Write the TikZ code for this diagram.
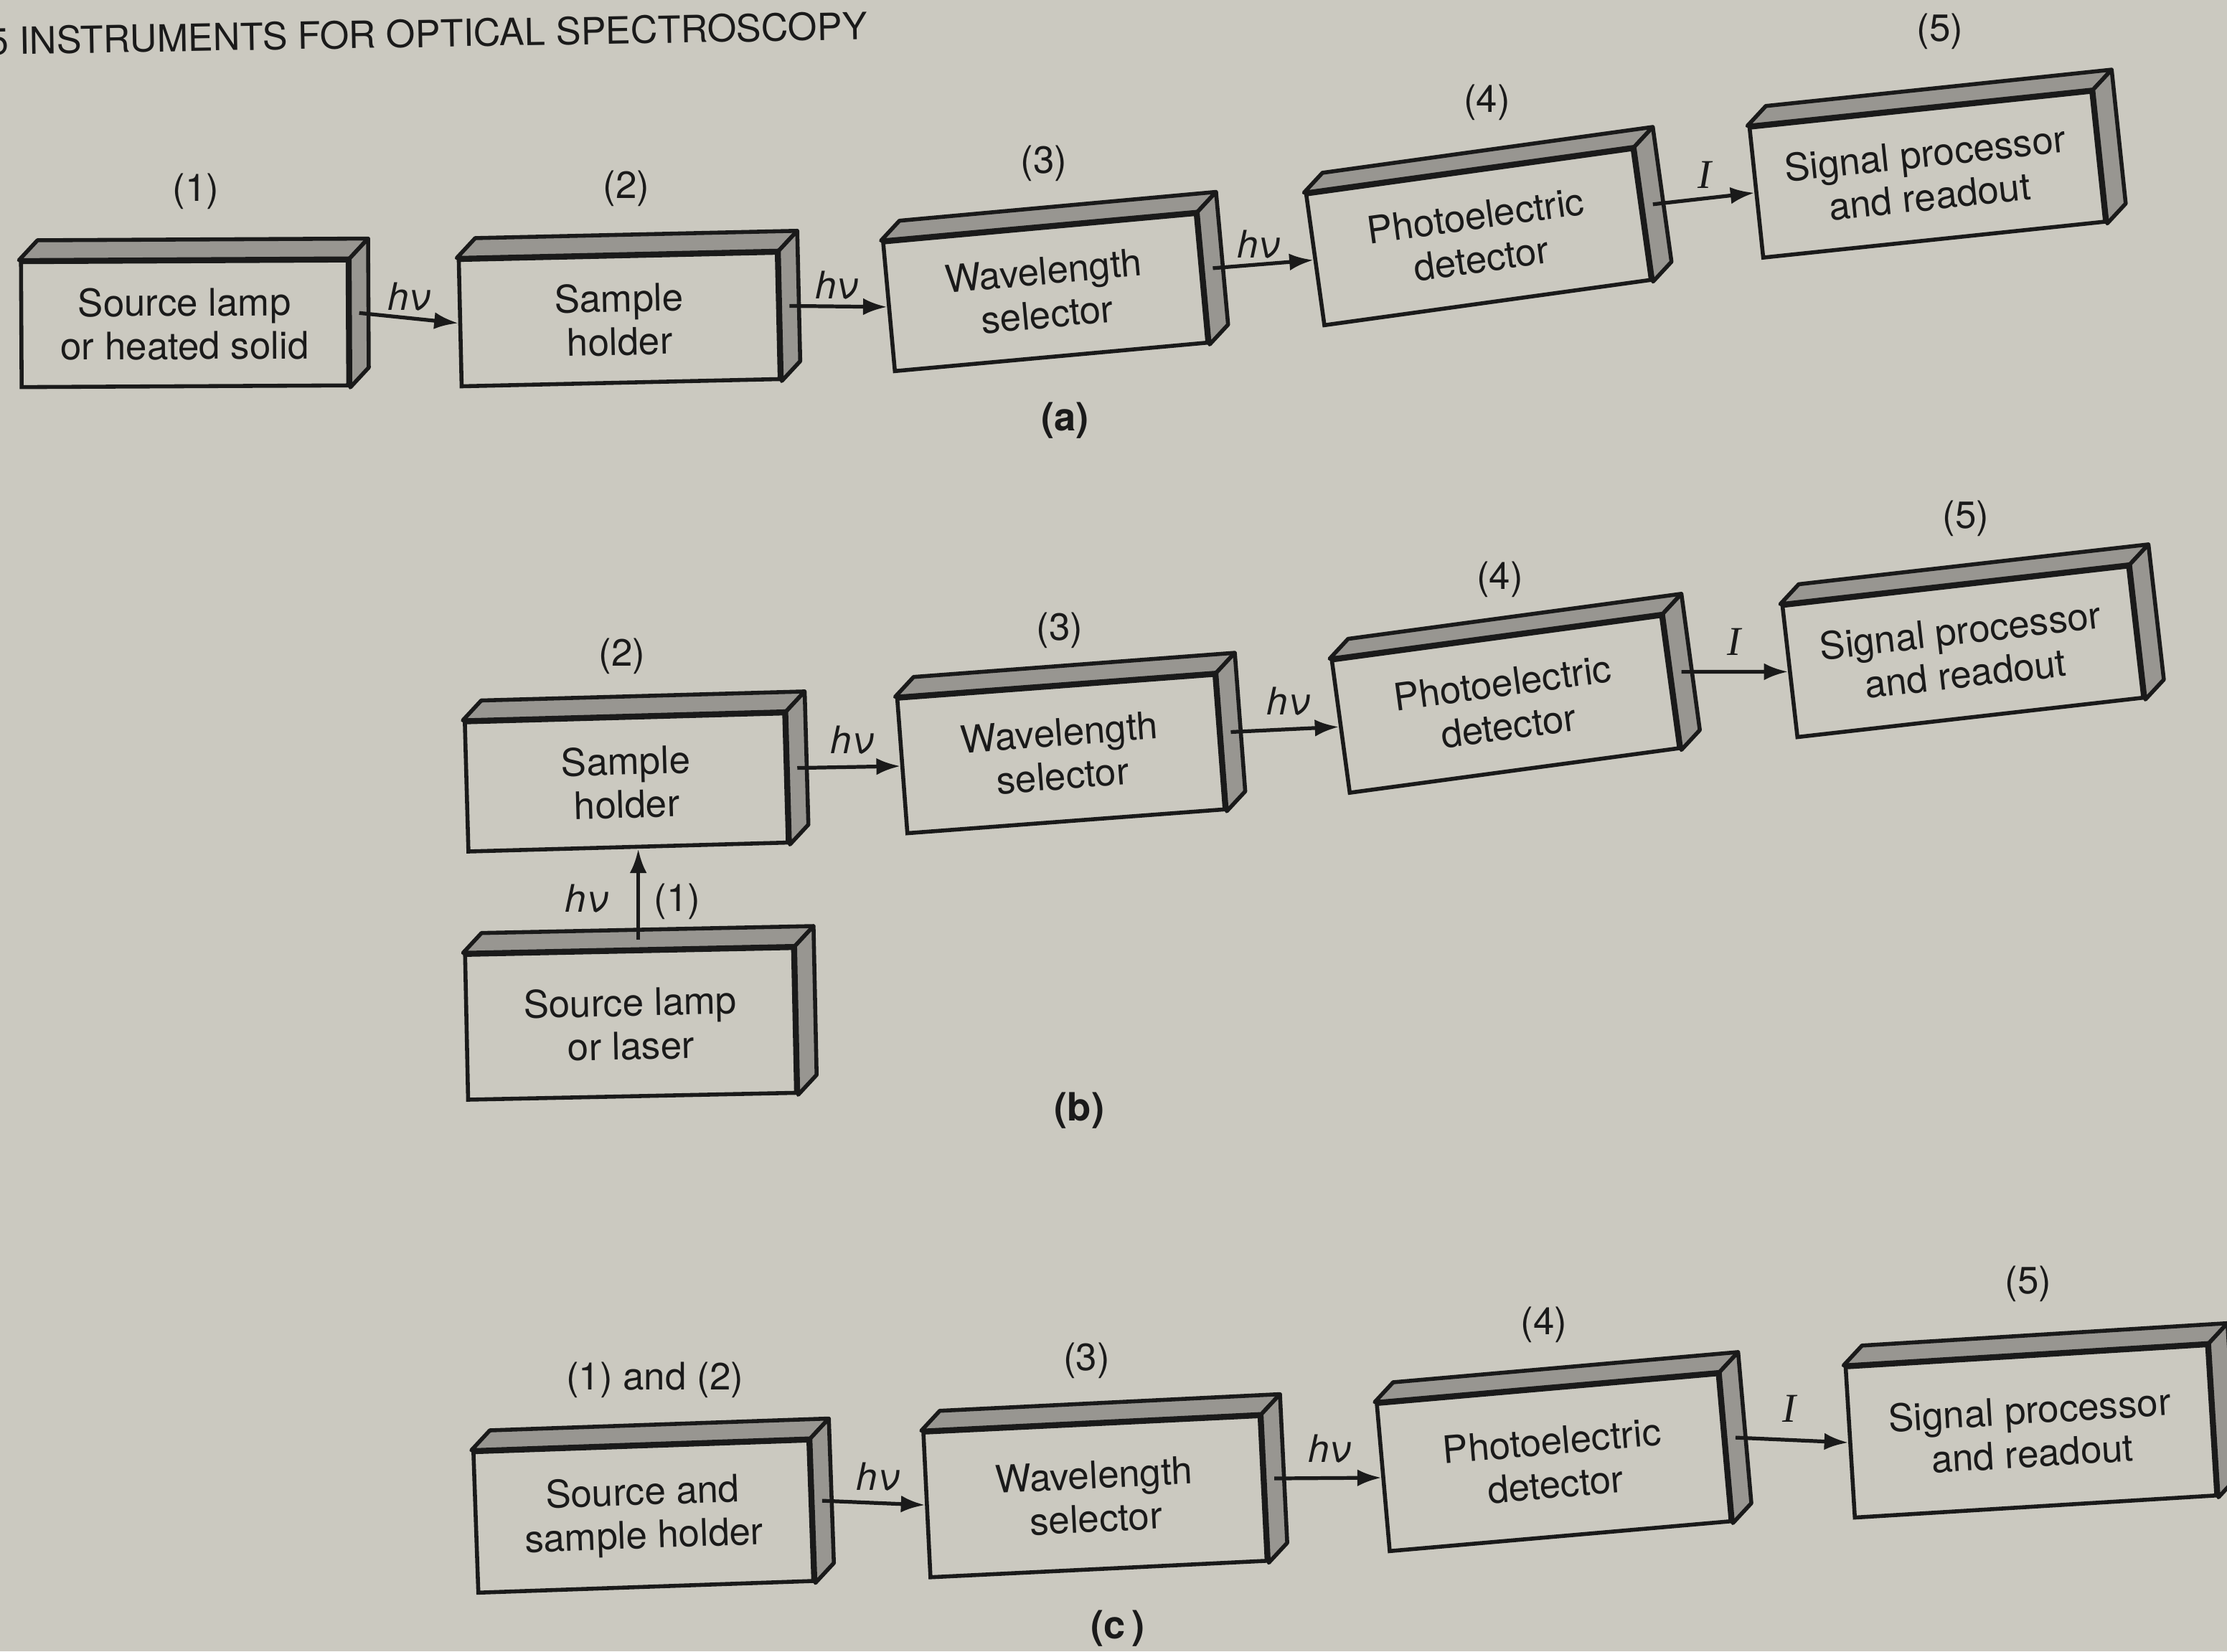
\documentclass[tikz,border=0pt]{standalone}
\usepackage{fontspec}
\setmainfont{TeX Gyre Heros}
\newfontfamily\currentfont{Liberation Serif}
\usetikzlibrary{arrows.meta,calc}
\definecolor{paper}{RGB}{203,201,192}
\definecolor{facegray}{RGB}{152,150,145}
\definecolor{ink}{RGB}{26,26,26}
\tikzset{
  blk/.style={draw=ink, fill=paper, line width=0.8pt, align=center, inner sep=0pt,
              font=\fontsize{7.6}{8.7}\selectfont, text=ink},
  face/.style={draw=ink, fill=facegray, line width=0.8pt, line join=round},
  num/.style={font=\fontsize{7.6}{8.4}\selectfont, text=ink, inner sep=0pt},
  flow/.style={draw=ink, line width=0.75pt, -{Latex[length=4.8pt,width=3.4pt]}},
  hvlab/.style={font=\fontsize{7.6}{8.4}\selectfont\itshape, text=ink, inner sep=0pt},
  curlab/.style={font=\fontsize{8.2}{9}\currentfont\itshape, text=ink, inner sep=0pt},
  panel/.style={font=\fontsize{7.8}{9}\selectfont\bfseries, text=ink, inner sep=0pt},
}
% block with shaded top and right faces: name, x, y, angle, width, height, text
\newcommand\optbox[7]{%
  \node[blk, rotate=#4, minimum width=#5*0.01cm, minimum height=#6*0.01cm] (#1) at (#2,-#3) {#7};
  \draw[face] (#1.north west) -- ++(13,14) -- ($(#1.north east)+(13,14)$) -- (#1.north east) -- cycle;
  \draw[face] (#1.north east) -- ++(13,14) -- ($(#1.south east)+(13,14)$) -- (#1.south east) -- cycle;
  \coordinate (#1-out) at ($(#1.east)+(6.5,7)$);
  \coordinate (#1-top) at ($(#1.north)+(6.5,7)$);
}
\begin{document}
\begin{tikzpicture}[x=0.01cm,y=0.01cm]
\fill[paper] (0,0) rectangle (1568,-1163);
\useasboundingbox (0,0) rectangle (1568,-1163);

\node[font=\fontsize{7.5}{9}\selectfont, text=ink, anchor=west, inner sep=0pt, rotate=1]
  (hdr) at (-9,-29) {5 INSTRUMENTS FOR OPTICAL SPECTROSCOPY};

% ---------- (a) ----------
\optbox{a1}{130}{228}{0.3}{230}{88}{Source lamp\\or heated solid}
\optbox{a2}{436}{225}{1.3}{224}{89}{Sample\\holder}
\optbox{a3}{736}{206}{5.2}{221}{91}{Wavelength\\selector}
\optbox{a4}{1041}{167}{7.9}{232}{93}{Photoelectric\\detector}
\optbox{a5}{1357}{123}{6}{242}{92}{Signal processor\\and readout}
\node[num] (na1) at (138,-135) {(1)};
\node[num] (na2) at (441,-133) {(2)};
\node[num] (na3) at (735,-115) {(3)};
\node[num] (na4) at (1047,-72) {(4)};
\node[num] (na5) at (1366,-22) {(5)};
\draw[flow] (a1-out) -- (a2.west);
\draw[flow] (a2-out) -- (a3.west);
\draw[flow] (a3-out) -- (a4.west);
\draw[flow] (a4-out) -- (a5.west);
\node[hvlab] (ha1) at (288,-209) {hν};
\node[hvlab] (ha2) at (589,-201) {hν};
\node[hvlab] (ha3) at (886,-172) {hν};
\node[curlab] (ia) at (1200,-123) {I};
\node[panel] (pa) at (750,-296) {(a)};

% ---------- (b) ----------
\optbox{b2}{441}{551}{1.6}{225}{91}{Sample\\holder}
\optbox{b3}{747}{531}{4.3}{224}{95}{Wavelength\\selector}
\optbox{b4}{1060}{496}{7.7}{234}{94}{Photoelectric\\detector}
\optbox{b5}{1382}{459}{6.5}{245}{93}{Signal processor\\and readout}
\optbox{b1}{444}{721}{1.2}{231}{102}{Source lamp\\or laser}
\node[num] (nb2) at (438,-462) {(2)};
\node[num] (nb3) at (746,-444) {(3)};
\node[num] (nb4) at (1056,-408) {(4)};
\node[num] (nb5) at (1384,-365) {(5)};
\node[num] (nb1) at (477,-635) {(1)};
\draw[flow] (b1-top) -- (b1-top |- b2.south);
\draw[flow] (b2-out) -- (b3.west);
\draw[flow] (b3-out) -- (b4.west);
\draw[flow] (b4-out) -- (b5.west);
\node[hvlab] (hb0) at (413,-633) {hν};
\node[hvlab] (hb1) at (600,-521) {hν};
\node[hvlab] (hb2) at (907,-494) {hν};
\node[curlab] (ib) at (1221,-452) {I};
\node[panel] (pb) at (760,-782) {(b)};

% ---------- (c) ----------
\optbox{c2}{453}{1068}{2}{236}{99}{Source and\\sample holder}
\optbox{c3}{771}{1054}{2.8}{237}{102}{Wavelength\\selector}
\optbox{c4}{1094}{1030}{5}{241}{104}{Photoelectric\\detector}
\optbox{c5}{1430}{1008}{3.5}{255}{106}{Signal processor\\and readout}
\node[num] (nc2) at (461,-972) {(1) and (2)};
\node[num] (nc3) at (765,-958) {(3)};
\node[num] (nc4) at (1087,-933) {(4)};
\node[num] (nc5) at (1428,-904) {(5)};
\draw[flow] (c2-out) -- (c3.west);
\draw[flow] (c3-out) -- (c4.west);
\draw[flow] (c4-out) -- (c5.west);
\node[hvlab] (hc1) at (618,-1040) {hν};
\node[hvlab] (hc2) at (936,-1020) {hν};
\node[curlab] (ic) at (1260,-992) {I};
\node[panel] (pc) at (787,-1147) {(c\,)};
\end{tikzpicture}
\end{document}
